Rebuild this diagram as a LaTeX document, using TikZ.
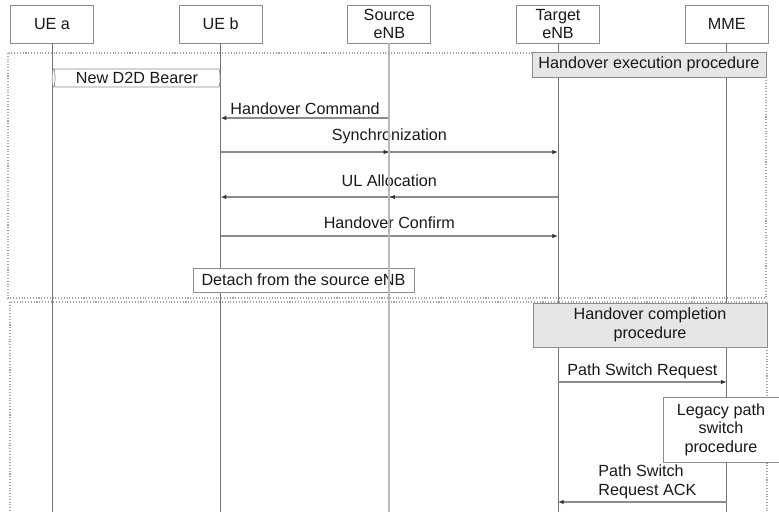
\documentclass[tikz,border=0pt]{standalone}
\usepackage{fontspec}
\setmainfont{Liberation Sans}
\usetikzlibrary{arrows.meta,positioning,shapes.geometric}
\definecolor{linegray}{RGB}{115,115,115}
\definecolor{msggray}{RGB}{140,140,140}
\definecolor{srcgray}{RGB}{185,185,185}
\definecolor{dotgray}{RGB}{165,165,165}
\definecolor{procfill}{RGB}{230,230,230}
\tikzset{
    every node/.style={font=\fontsize{9.2}{10.6}\selectfont, text=black!90},
    head/.style={rectangle, draw=msggray, fill=white, minimum width=1.66cm,
                 minimum height=0.76cm, align=center, inner sep=1pt},
    life/.style={draw=linegray, line width=0.5pt},
    msg/.style={-{Latex[length=3.2pt,width=2.6pt,color=black!80]}, draw=msggray, line width=0.8pt},
    lbl/.style={inner sep=0pt, text depth=0pt, align=center},
    procbox/.style={rectangle, draw=msggray, fill=procfill, align=center, inner sep=1pt},
    notebox/.style={rectangle, draw=msggray, fill=white, align=center, inner sep=1pt},
    phase/.style={draw=dotgray, densely dotted, line width=0.6pt},
    bearer/.style={cylinder, shape border rotate=180, draw=msggray, fill=white,
                   aspect=0.25, inner sep=0pt},
}

\begin{document}
\begin{tikzpicture}[x=0.02cm, y=-0.02cm]
    \clip (0,0) rectangle (779,512);

    % Procedure frames
    \draw[phase] (8,53) rectangle (766,298);
    \draw[phase] (10,302) rectangle (767,530);

    % Entities
    \node[head]                    (uea) at (52,24) {UE a};
    \node[head, right=1.7cm of uea] (ueb) {UE b};
    \node[head, right=1.7cm of ueb] (src) {Source\\eNB};
    \node[head, right=1.7cm of src] (tgt) {Target\\eNB};
    \node[head, right=1.7cm of tgt] (mme) {MME};

    % Lifelines
    \coordinate (bottom) at (0,512);
    \foreach \n in {uea,ueb,tgt,mme}
        \draw[life] (\n.south) -- (\n.south |- bottom);

    % Message rows
    \coordinate (r1) at (0,118);
    \coordinate (r2) at (0,152);
    \coordinate (r3) at (0,197);
    \coordinate (r4) at (0,236);
    \coordinate (r5) at (0,382);
    \coordinate (r6) at (0,502);

    % Handover execution
    \node[procbox, minimum width=4.68cm, minimum height=0.5cm] (exec) at (649,64.5)
        {Handover  execution  procedure};
    \node[bearer, minimum height=3.36cm, minimum width=0.36cm] (d2d) at (137,78) {New D2D Bearer};
    \draw[msg] (src |- r1) -- node[lbl, above=1.7pt]{Handover  Command} (ueb |- r1);
    \draw[msg] (ueb |- r2) -- node[lbl, above=6.3pt]{Synchronization} (tgt |- r2);
    \draw[msg] (ueb |- r2) -- (src |- r2);
    \draw[msg] (tgt |- r3) -- node[lbl, above=5.7pt]{UL Allocation} (ueb |- r3);
    \draw[msg] (tgt |- r3) -- (src |- r3);
    \draw[msg] (ueb |- r4) -- node[lbl, above=4pt]{Handover  Confirm} (tgt |- r4);
    \node[notebox, minimum width=4.42cm, minimum height=0.48cm] (detach) at (303.5,280)
        {Detach from the source eNB};

    % Handover completion
    \node[procbox, minimum width=4.68cm, minimum height=0.88cm] (compl) at (650,325)
        {Handover  completion\\procedure};
    \draw[msg] (tgt |- r5) -- node[lbl, above=3.4pt]{Path Switch Request} (mme |- r5);
    \node[notebox, minimum width=2.32cm, minimum height=1.3cm] (legacy) at (721,429.5)
        {Legacy path\\switch\\procedure};
    \draw[msg] (mme |- r6) -- node[lbl, above=3.4pt, align=left, xshift=0.1cm]{Path Switch\\Request ACK} (tgt |- r6);

    % Source eNB lifeline on top
    \draw[draw=srcgray, line width=1.2pt] (src.south) -- (src.south |- bottom);
\end{tikzpicture}
\end{document}
